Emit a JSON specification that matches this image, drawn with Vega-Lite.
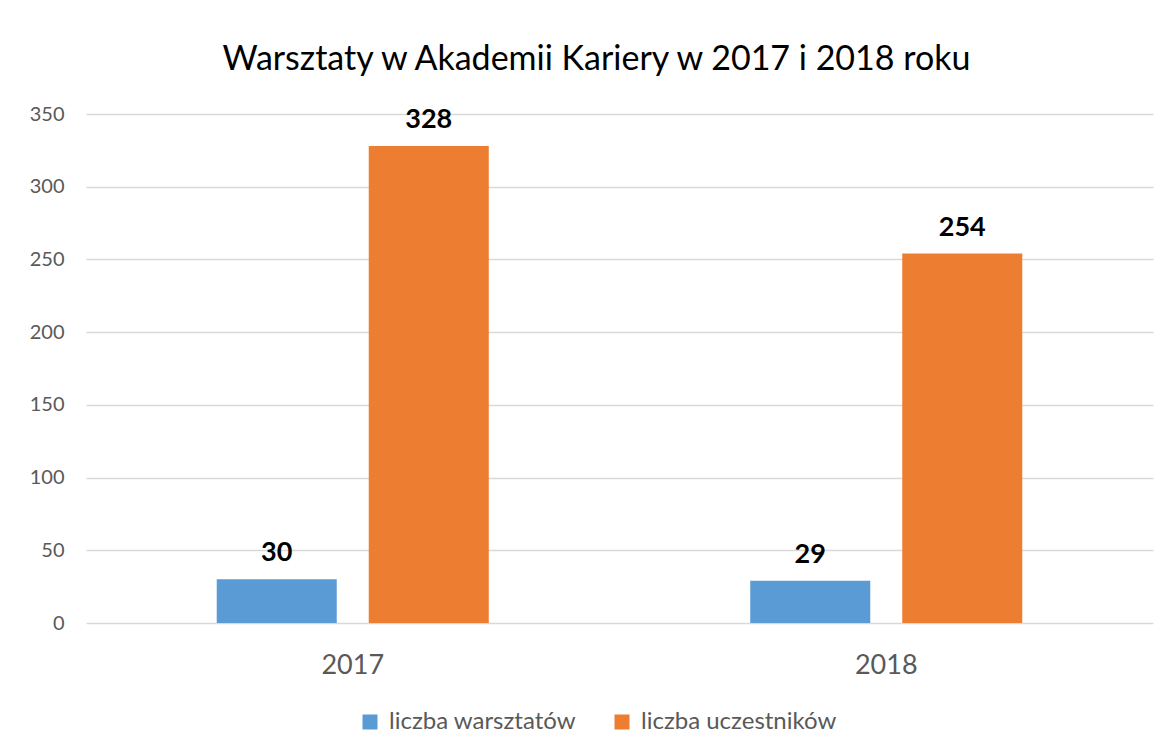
{
  "$schema": "https://vega.github.io/schema/vega-lite/v6.json",
  "autosize": "none",
  "width": 1067,
  "height": 509,
  "padding": {"left": 86, "top": 114, "right": 17, "bottom": 133},
  "background": "white",
  "title": {
    "text": "Warsztaty w Akademii Kariery w 2017 i 2018 roku",
    "anchor": "middle",
    "frame": "group",
    "offset": 27,
    "dx": -23,
    "font": "Lato",
    "fontSize": 34,
    "fontWeight": "normal",
    "color": "#000000"
  },
  "data": {
    "values": [
      {"rok": "2017", "seria": "liczba warsztatów", "wartosc": 30},
      {"rok": "2017", "seria": "liczba uczestników", "wartosc": 328},
      {"rok": "2018", "seria": "liczba warsztatów", "wartosc": 29},
      {"rok": "2018", "seria": "liczba uczestników", "wartosc": 254}
    ]
  },
  "encoding": {
    "x": {
      "field": "rok",
      "type": "nominal",
      "scale": {"paddingInner": 0, "paddingOuter": 0},
      "axis": {
        "title": null,
        "labelAngle": 0,
        "labelFont": "Lato",
        "labelFontSize": 27,
        "labelColor": "#595959",
        "labelPadding": 29,
        "ticks": false,
        "domain": false
      }
    },
    "xOffset": {
      "field": "seria",
      "type": "nominal",
      "sort": ["liczba warsztatów", "liczba uczestników"],
      "scale": {"paddingInner": 0.2105, "paddingOuter": 0.86}
    },
    "y": {
      "field": "wartosc",
      "type": "quantitative",
      "scale": {"domain": [0, 350], "nice": false},
      "axis": {
        "title": null,
        "values": [0, 50, 100, 150, 200, 250, 300, 350],
        "labelFont": "Lato",
        "labelFontSize": 20,
        "labelColor": "#595959",
        "labelPadding": 22,
        "ticks": false,
        "domain": false,
        "gridColor": "#D9D9D9",
        "gridWidth": 1.5
      }
    }
  },
  "layer": [
    {
      "mark": {"type": "bar"},
      "encoding": {
        "color": {
          "field": "seria",
          "type": "nominal",
          "sort": ["liczba warsztatów", "liczba uczestników"],
          "scale": {"domain": ["liczba warsztatów", "liczba uczestników"], "range": ["#5B9BD5", "#ED7D31"]},
          "legend": {
            "title": null,
            "orient": "none",
            "legendX": 272,
            "legendY": 596,
            "direction": "horizontal",
            "symbolType": "square",
            "symbolSize": 225,
            "symbolStrokeWidth": 0,
            "symbolOpacity": 1,
            "labelFont": "Lato",
            "labelFontSize": 24,
            "labelColor": "#595959",
            "labelOffset": 7,
            "labelLimit": 400,
            "columnPadding": 34
          }
        }
      }
    },
    {
      "mark": {"type": "text", "baseline": "bottom", "dy": -12, "font": "Lato", "fontSize": 27, "fontWeight": "bold", "color": "#000000"},
      "encoding": {
        "text": {"field": "wartosc", "type": "quantitative"}
      }
    }
  ],
  "config": {
    "view": {"stroke": null}
  }
}
